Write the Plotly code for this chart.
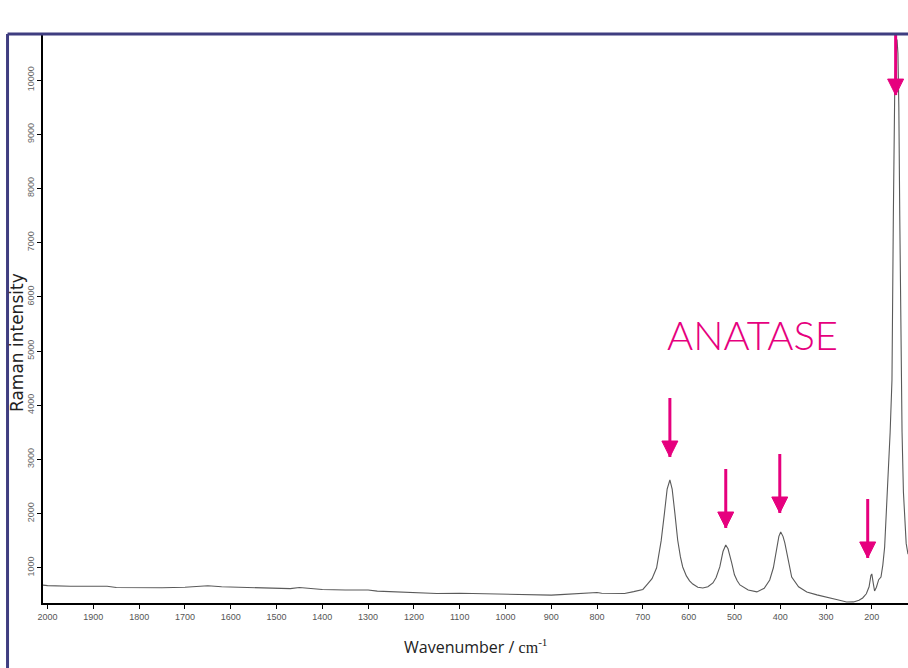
import plotly.graph_objects as go

# Raman spectrum (wavenumber cm-1, intensity)
wavenumber = [2010, 2000, 1950, 1900, 1870, 1850, 1800, 1750, 1700, 1670, 1650, 1620, 1600,
              1550, 1500, 1470, 1450, 1420, 1400, 1350, 1320, 1300, 1280, 1250, 1200, 1180,
              1150, 1100, 1050, 1000, 950, 900, 880, 850, 820, 800, 790, 760, 740, 720, 700,
              690, 680, 670, 660, 653, 647, 641, 636, 630, 624, 618, 613, 605, 598, 591, 580,
              569, 558, 547, 540, 532, 525, 519, 514, 506, 500, 494, 488, 470, 451, 435, 423,
              415, 407, 403, 399, 394, 390, 382, 375, 360, 342, 320, 298, 275, 255, 240, 228,
              220, 212, 206, 202, 200, 197, 194, 190, 185, 180, 176, 172, 168, 165, 160, 156,
              153, 150, 147, 145, 143, 141, 139, 137, 134, 131, 128, 125, 121]
intensity = [680, 670, 660, 662, 660, 635, 630, 632, 640, 660, 668, 650, 645,
             640, 630, 615, 635, 615, 600, 590, 585, 590, 570, 560, 550, 535,
             525, 530, 520, 515, 505, 495, 505, 515, 525, 545, 530, 520, 525, 560, 600,
             700, 800, 1000, 1500, 2000, 2450, 2620, 2450, 2000, 1513, 1200, 1015, 850, 760, 700, 640,
             627, 650, 720, 820, 1015, 1300, 1421, 1350, 1089, 870, 760, 683, 590, 555, 620, 775,
             1000, 1384, 1580, 1660, 1580, 1458, 1100, 830, 650, 553, 500, 461, 410, 369, 370, 400,
             443, 520, 650, 860, 886, 720, 572, 640, 780, 830, 1050, 1384, 2000, 2620, 3500, 4465,
             7500, 9800, 10600, 10750, 10500, 9500, 7500, 5500, 3500, 2400, 1800, 1450, 1250]

# Arrows marking anatase bands (position, tip intensity, top intensity)
arrow_x = [641, 519, 401, 209, 148]
arrow_tip = [3044, 1734, 2011, 1181, 9723]
arrow_top = [4133, 2823, 3100, 2269, 10850]

x_ticks = list(range(2000, 100, -100))
y_ticks = list(range(1000, 11000, 1000))
y_ticktext = [str(v) for v in y_ticks]

MAG = "#e6007e"
FRAME = "#3f3d80"

fig = go.Figure()
fig.add_trace(go.Scatter(x=wavenumber, y=intensity, mode="lines",
                         line=dict(color="#5a5a5a", width=1.1), hoverinfo="skip",
                         showlegend=False))

shapes = []
for ax_, tip, top in zip(arrow_x, arrow_tip, arrow_top):
    shapes.append(dict(type="line", xref="x", yref="y", x0=ax_, x1=ax_, y0=top, y1=tip,
                       line=dict(color=MAG, width=3), layer="above"))
    shapes.append(dict(type="path", xref="x", yref="y", xsizemode="pixel", ysizemode="pixel",
                       xanchor=ax_, yanchor=tip, path="M-8,16 L8,16 L0,0 Z",
                       fillcolor=MAG, line=dict(color=MAG, width=1), layer="above"))

# slide frame
shapes.append(dict(type="line", xref="paper", yref="paper", x0=-0.041, x1=1.01, y0=1, y1=1,
                   line=dict(color=FRAME, width=3), layer="above"))
shapes.append(dict(type="line", xref="paper", yref="paper", x0=-0.041, x1=-0.041, y0=1, y1=-0.13,
                   line=dict(color=FRAME, width=3), layer="above"))

annotations = [
    dict(text="ANATASE", x=460, y=5300, xref="x", yref="y", showarrow=False,
         font=dict(family="Lato", size=40, color=MAG, weight=300)),
    dict(text="Raman intensity", xref="paper", yref="paper", x=-0.030, y=0.457,
         xanchor="center", yanchor="middle", textangle=-90, showarrow=False,
         font=dict(family="DejaVu Sans", size=17, color="#222")),
    dict(text="Wavenumber / <span style='font-family:Liberation Serif'>cm<sup>-1</sup></span>",
         xref="paper", yref="paper", x=0.5, y=-0.078, xanchor="center", yanchor="middle",
         showarrow=False, font=dict(family="Open Sans", size=16, color="#222")),
]

fig.update_layout(
    width=908, height=668, autosize=False,
    margin=dict(l=43, r=0, t=34, b=65),
    paper_bgcolor="white", plot_bgcolor="white",
    shapes=shapes, annotations=annotations,
    xaxis=dict(range=[2010, 121], tickvals=x_ticks, ticks="outside", ticklen=4,
               tickcolor="black", showgrid=False, zeroline=False, showline=True,
               linecolor="black", linewidth=2,
               tickfont=dict(family="Liberation Sans", size=9, color="#555")),
    yaxis=dict(range=[350, 10850], tickvals=y_ticks, ticktext=y_ticktext, ticks="outside",
               ticklen=4, tickcolor="black", showgrid=False, zeroline=False, showline=True,
               linecolor="black", linewidth=1.5, tickangle=-90,
               tickfont=dict(family="Liberation Sans", size=9, color="#666")),
)

fig.write_html("out.html", config={"displayModeBar": False},
               post_script="document.body.style.margin='0';document.body.style.overflow='hidden';")
